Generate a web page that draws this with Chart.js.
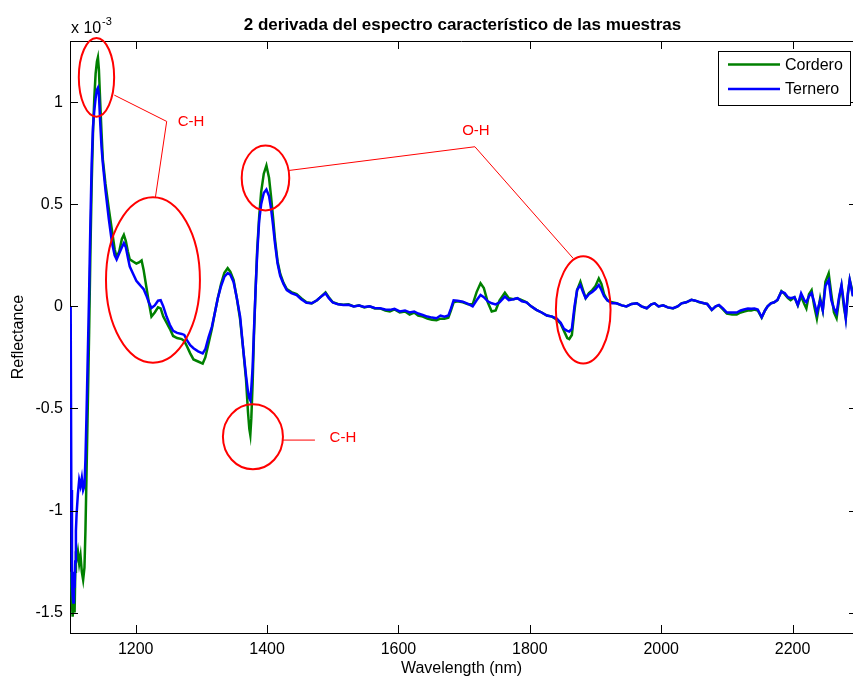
<!DOCTYPE html>
<html>
<head>
<meta charset="utf-8">
<script src="https://cdn.jsdelivr.net/npm/chart.js@4.4.1/dist/chart.umd.min.js"></script>
<style>
  html, body { margin: 0; padding: 0; background: #fff; overflow: hidden; }
  canvas { display: block; }
</style>
</head>
<body>
<canvas id="myChart" width="853" height="678"></canvas>
<script>
// wavelength (nm) and 2nd derivative reflectance (x 10^-3)
const wavelength = [
  1101, 1102, 1103, 1104, 1105, 1106, 1107, 1108, 1109, 1110, 1112, 1114, 1116, 1118, 1120, 1122,
  1123.5, 1125, 1127, 1129, 1131, 1133, 1135, 1137, 1139, 1141, 1142.5, 1144, 1146, 1148, 1150,
  1154, 1159, 1164, 1168, 1171, 1175, 1179, 1182, 1185, 1188, 1191, 1196, 1201, 1205, 1209, 1212,
  1216, 1220, 1224, 1229, 1234, 1238, 1242, 1247, 1252, 1257, 1263, 1270, 1274, 1278, 1283, 1288,
  1295, 1302, 1306, 1311, 1316, 1320, 1325, 1330, 1335, 1340, 1344, 1349, 1354, 1359, 1364, 1368,
  1371, 1373, 1374.5, 1376, 1378, 1380, 1382.5, 1385, 1388, 1391, 1395, 1399, 1403, 1406, 1409,
  1412, 1416, 1420, 1425, 1430, 1437, 1445, 1452, 1460, 1468, 1476, 1483, 1489, 1494, 1500, 1508,
  1516, 1524, 1532, 1540, 1548, 1556, 1564, 1572, 1580, 1587, 1594, 1602, 1610, 1617, 1624, 1630,
  1637, 1644, 1651, 1658, 1664, 1670, 1676, 1680, 1684, 1690, 1698, 1706, 1713, 1719, 1725, 1730,
  1736, 1742, 1748, 1754, 1762, 1768, 1775, 1781, 1788, 1795, 1802, 1810, 1818, 1826, 1834, 1841,
  1847, 1852, 1857, 1860, 1864, 1868, 1872, 1877, 1881, 1885, 1890, 1895, 1900, 1905, 1909, 1913,
  1918, 1925, 1932, 1940, 1947, 1955, 1963, 1970, 1978, 1985, 1990, 1996, 2003, 2010, 2018, 2025,
  2031, 2038, 2046, 2052, 2058, 2065, 2070, 2077, 2083, 2088, 2094, 2100, 2108, 2115, 2121, 2126,
  2132, 2137, 2142, 2147, 2153, 2158, 2162, 2167, 2172, 2177, 2183, 2188, 2193, 2197, 2203, 2208,
  2213, 2218, 2221, 2225, 2229, 2233, 2237, 2242, 2246, 2250, 2255, 2259, 2263, 2267, 2271, 2274.5,
  2278, 2281, 2284, 2287, 2290, 2292
];
const cordero = [
  -1.30, -1.38, -1.45, -1.52, -1.48, -1.40, -1.50, -1.30, -1.20, -1.24, -1.20, -1.26, -1.22, -1.30, -1.34, -1.28,
  -1.10, -0.85, -0.50, -0.15, 0.25, 0.60, 0.85, 1.02, 1.14, 1.20, 1.22, 1.16, 1.00, 0.85, 0.72,
  0.60, 0.48, 0.37, 0.28, 0.24, 0.27, 0.33, 0.35, 0.32, 0.27, 0.23, 0.22, 0.21, 0.215, 0.225, 0.18,
  0.10, 0.02, -0.05, -0.03, -0.005, -0.01, -0.05, -0.08, -0.11, -0.145, -0.155, -0.16, -0.17, -0.195, -0.23, -0.26,
  -0.27, -0.28, -0.25, -0.18, -0.11, -0.04, 0.04, 0.11, 0.165, 0.187, 0.17, 0.13, 0.04, -0.065, -0.22, -0.36,
  -0.52, -0.60, -0.63, -0.55, -0.38, -0.15, 0.08, 0.28, 0.44, 0.56, 0.65, 0.69, 0.63, 0.54, 0.44,
  0.33, 0.22, 0.16, 0.115, 0.085, 0.07, 0.06, 0.04, 0.02, 0.015, 0.03, 0.05, 0.068, 0.045, 0.02, 0.012,
  0.008, 0.01, 0.0, 0.005, -0.005, 0.0, -0.01, -0.01, -0.02, -0.025, -0.015, -0.03, -0.025, -0.04, -0.03, -0.045,
  -0.05, -0.06, -0.065, -0.068, -0.06, -0.06, -0.055, -0.02, 0.02, 0.025, 0.02, 0.01, 0.01, 0.07, 0.113, 0.09,
  0.02, -0.025, -0.02, 0.03, 0.067, 0.04, 0.035, 0.04, 0.03, 0.02, 0.0, -0.017, -0.03, -0.045, -0.05, -0.065,
  -0.085, -0.12, -0.155, -0.16, -0.14, -0.02, 0.08, 0.121, 0.08, 0.04, 0.065, 0.08, 0.10, 0.137, 0.11, 0.06,
  0.03, 0.02, 0.015, 0.005, 0.0, 0.012, 0.015, 0.0, -0.009, 0.01, 0.015, 0.0, 0.005, -0.005, -0.01, 0.0,
  0.015, 0.02, 0.032, 0.028, 0.02, 0.015, 0.012, -0.017, 0.0, 0.005, -0.015, -0.035, -0.04, -0.04, -0.03, -0.025,
  -0.02, -0.02, -0.015, -0.02, -0.055, -0.02, 0.0, 0.015, 0.02, 0.03, 0.075, 0.06, 0.04, 0.03, 0.045, 0.005,
  0.05, 0.01, -0.01, 0.06, 0.08, 0.0, -0.06, 0.04, -0.02, 0.12, 0.162, 0.06, -0.03, -0.058, 0.04, 0.10,
  0.0, -0.058, 0.05, 0.13, 0.09, 0.05
];
const ternero = [
  0.00, -0.90, -1.35, -1.42, -1.45, -1.30, -1.38, -1.25, -1.10, -1.02, -0.92, -0.85, -0.88, -0.84, -0.90, -0.88,
  -0.75, -0.55, -0.25, 0.05, 0.40, 0.70, 0.88, 0.96, 1.02, 1.06, 1.07, 1.04, 0.90, 0.78, 0.70,
  0.57, 0.43, 0.31, 0.25, 0.23, 0.26, 0.29, 0.31, 0.29, 0.24, 0.195, 0.16, 0.125, 0.11, 0.095, 0.085,
  0.055, 0.02, -0.008, 0.005, 0.028, 0.03, 0.0, -0.05, -0.09, -0.12, -0.13, -0.135, -0.14, -0.165, -0.19, -0.205,
  -0.22, -0.23, -0.21, -0.15, -0.10, -0.04, 0.04, 0.10, 0.145, 0.163, 0.155, 0.12, 0.04, -0.05, -0.22, -0.34,
  -0.42, -0.45, -0.46, -0.40, -0.30, -0.12, 0.08, 0.26, 0.42, 0.50, 0.555, 0.572, 0.54, 0.48, 0.40,
  0.31, 0.21, 0.15, 0.11, 0.08, 0.065, 0.055, 0.035, 0.018, 0.015, 0.03, 0.05, 0.064, 0.04, 0.019, 0.01,
  0.007, 0.008, 0.0, 0.004, -0.003, 0.0, -0.008, -0.009, -0.015, -0.017, -0.012, -0.025, -0.02, -0.03, -0.025, -0.035,
  -0.042, -0.05, -0.055, -0.058, -0.045, -0.05, -0.045, -0.01, 0.03, 0.028, 0.023, 0.012, 0.0, 0.03, 0.056, 0.045,
  0.025, 0.015, 0.01, 0.02, 0.048, 0.03, 0.035, 0.04, 0.025, 0.02, 0.0, -0.017, -0.03, -0.045, -0.05, -0.06,
  -0.08, -0.11, -0.12, -0.123, -0.11, 0.0, 0.08, 0.105, 0.07, 0.04, 0.06, 0.07, 0.085, 0.105, 0.08, 0.05,
  0.03, 0.015, 0.015, 0.005, 0.0, 0.012, 0.015, 0.0, -0.009, 0.01, 0.015, 0.0, 0.005, -0.005, -0.009, 0.0,
  0.015, 0.02, 0.032, 0.028, 0.022, 0.015, 0.012, -0.017, 0.0, 0.007, -0.01, -0.03, -0.03, -0.03, -0.02, -0.015,
  -0.01, -0.012, -0.01, -0.015, -0.053, -0.02, 0.0, 0.015, 0.02, 0.032, 0.072, 0.065, 0.045, 0.04, 0.045, 0.007,
  0.064, 0.03, 0.02, 0.05, 0.065, 0.02, -0.033, 0.03, -0.02, 0.10, 0.129, 0.03, -0.01, -0.033, 0.05, 0.105,
  0.02, -0.058, 0.06, 0.129, 0.08, 0.05
];
const xTicks = [1200, 1400, 1600, 1800, 2000, 2200];
const yTicks = [-1.5, -1, -0.5, 0, 0.5, 1];

// red marks (data units): ellipses [wl, value, radius wl, radius value]
const rings = [
  [1140.3, 1.122, 26.9, 0.193],
  [1226.3, 0.129, 71.5, 0.405],
  [1397.6, 0.629, 36.2, 0.159],
  [1378.5, -0.639, 45.7, 0.159],
  [1881.3, -0.017, 41.6, 0.263]
];
const leaders = [
  [[1167.4, 1.035], [1247.2, 0.906], [1230.1, 0.536]],
  [[1433.8, 0.666], [1716.4, 0.782], [1866.1, 0.235]],
  [[1423.7, -0.655], [1472.9, -0.655]]
];
const notes = [
  ['C-H', 1284.2, 0.906],
  ['O-H', 1718, 0.861],
  ['C-H', 1515.5, -0.646]
];

const FONT = "'Liberation Sans', Arial, sans-serif";

const matlabLook = {
  id: 'matlabLook',
  afterDraw(chart) {
    const ctx = chart.ctx;
    const a = chart.chartArea;
    const xs = chart.scales.x, ys = chart.scales.y;
    ctx.save();
    // top border
    ctx.strokeStyle = '#000';
    ctx.lineWidth = 1;
    ctx.beginPath();
    ctx.moveTo(a.left, a.top + 0.5);
    ctx.lineTo(a.right, a.top + 0.5);
    ctx.stroke();
    // inward ticks
    ctx.beginPath();
    xTicks.forEach(function (v) {
      const p = Math.round(xs.getPixelForValue(v)) + 0.5;
      ctx.moveTo(p, a.bottom); ctx.lineTo(p, a.bottom - 8);
      ctx.moveTo(p, a.top); ctx.lineTo(p, a.top + 8);
    });
    yTicks.forEach(function (v) {
      const p = Math.round(ys.getPixelForValue(v)) + 0.5;
      ctx.moveTo(a.left, p); ctx.lineTo(a.left + 8, p);
      ctx.moveTo(a.right, p); ctx.lineTo(a.right - 4, p);
    });
    ctx.stroke();

    // title and exponent
    ctx.fillStyle = '#000';
    ctx.textBaseline = 'alphabetic';
    ctx.textAlign = 'center';
    ctx.font = 'bold 17px ' + FONT;
    ctx.fillText('2 derivada del espectro característico de las muestras', (a.left + 855) / 2, 30);
    ctx.textAlign = 'left';
    ctx.font = '16px ' + FONT;
    ctx.fillText('x 10', 71, 33);
    ctx.font = '11px ' + FONT;
    ctx.fillText('-3', 102, 25);

    // legend
    const lx = a.right - 135, ly = 51, lw = 132, lh = 54;
    ctx.fillStyle = '#fff';
    ctx.fillRect(lx, ly, lw, lh);
    ctx.strokeStyle = '#000';
    ctx.strokeRect(lx + 0.5, ly + 0.5, lw, lh);
    ctx.font = '16px ' + FONT;
    ctx.textBaseline = 'middle';
    chart.data.datasets.forEach(function (ds, i) {
      const y = ly + 13.5 + i * 24.5;
      ctx.strokeStyle = ds.borderColor;
      ctx.lineWidth = 2.5;
      ctx.beginPath();
      ctx.moveTo(lx + 10, y); ctx.lineTo(lx + 62, y);
      ctx.stroke();
      ctx.fillStyle = '#000';
      ctx.fillText(ds.label, lx + 67, y + 1);
    });

    // red annotations
    ctx.strokeStyle = '#ff0000';
    ctx.fillStyle = '#ff0000';
    rings.forEach(function (r) {
      const cx = xs.getPixelForValue(r[0]), cy = ys.getPixelForValue(r[1]);
      const rx = xs.getPixelForValue(r[0] + r[2]) - cx;
      const ry = cy - ys.getPixelForValue(r[1] + r[3]);
      ctx.lineWidth = 2;
      ctx.beginPath();
      ctx.ellipse(cx, cy, rx, ry, 0, 0, Math.PI * 2);
      ctx.stroke();
    });
    leaders.forEach(function (pts) {
      ctx.lineWidth = 1;
      ctx.beginPath();
      pts.forEach(function (pt, j) {
        const px = xs.getPixelForValue(pt[0]), py = ys.getPixelForValue(pt[1]);
        if (j === 0) ctx.moveTo(px, py); else ctx.lineTo(px, py);
      });
      ctx.stroke();
    });
    ctx.font = '15px ' + FONT;
    ctx.textAlign = 'center';
    ctx.textBaseline = 'middle';
    notes.forEach(function (n) {
      ctx.fillText(n[0], xs.getPixelForValue(n[1]), ys.getPixelForValue(n[2]));
    });
    ctx.restore();
  }
};

let chartSpec = document.getElementById('myChart').getContext('2d');

let spec = new Chart(chartSpec, {
  type: 'line',
  data: {
    labels: wavelength,
    datasets: [
      {
        label: 'Cordero',
        data: cordero,
        borderColor: 'rgb(0,128,0)',
        borderWidth: 2.5,
        pointRadius: 0,
        tension: 0,
        order: 2
      },
      {
        label: 'Ternero',
        data: ternero,
        borderColor: 'rgb(0,0,255)',
        borderWidth: 2.5,
        pointRadius: 0,
        tension: 0,
        order: 1
      }
    ]
  },
  options: {
    responsive: false,
    animation: false,
    devicePixelRatio: 1,
    layout: { padding: { top: 41, left: 0, right: 0, bottom: 0 } },
    plugins: {
      legend: { display: false },
      tooltip: { enabled: false }
    },
    scales: {
      x: {
        type: 'linear',
        min: 1100,
        max: 2292,
        afterFit: function (s) { s.height = 45; },
        afterBuildTicks: function (s) { s.ticks = xTicks.map(function (v) { return { value: v }; }); },
        grid: { drawOnChartArea: false, drawTicks: false },
        border: { display: true, color: '#000', width: 1 },
        ticks: {
          padding: 7,
          color: '#000',
          font: { family: FONT, size: 16 },
          maxRotation: 0,
          callback: function (v) { return String(v); }
        },
        title: {
          display: true,
          text: 'Wavelength (nm)',
          color: '#000',
          font: { family: FONT, size: 16 },
          padding: { top: 0, bottom: 0 }
        }
      },
      y: {
        min: -1.6,
        max: 1.3,
        afterFit: function (s) { s.width = 70; },
        afterBuildTicks: function (s) { s.ticks = yTicks.map(function (v) { return { value: v }; }); },
        grid: { drawOnChartArea: false, drawTicks: false },
        border: { display: true, color: '#000', width: 1 },
        ticks: {
          padding: 7,
          color: '#000',
          font: { family: FONT, size: 16 },
          callback: function (v) { return String(v); }
        },
        title: {
          display: true,
          text: 'Reflectance',
          color: '#000',
          font: { family: FONT, size: 16 },
          padding: { top: 9, bottom: 0 }
        }
      }
    }
  },
  plugins: [matlabLook]
});
</script>
</body>
</html>
